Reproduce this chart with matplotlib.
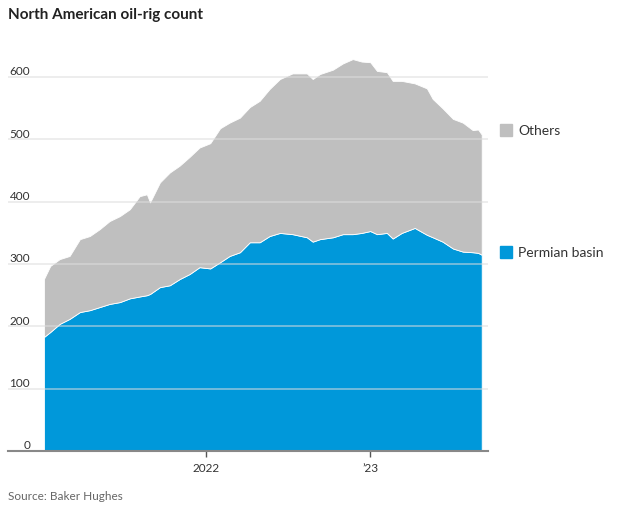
import matplotlib
matplotlib.use('Agg')
import matplotlib.pyplot as plt
import matplotlib.patches as mpatches
import pandas as pd

dates = ['2021-01-05', '2021-01-19', '2021-02-09', '2021-03-03', '2021-03-26', '2021-04-17',
         '2021-05-09', '2021-05-31', '2021-06-23', '2021-07-15', '2021-08-06', '2021-08-22',
         '2021-08-29', '2021-09-20', '2021-10-12', '2021-11-03', '2021-11-25', '2021-12-17',
         '2022-01-10', '2022-02-01', '2022-02-22', '2022-03-17', '2022-04-08', '2022-04-30',
         '2022-05-22', '2022-06-14', '2022-07-12', '2022-08-13', '2022-08-26', '2022-09-11',
         '2022-10-10', '2022-11-01', '2022-11-23', '2022-12-13', '2023-01-01', '2023-01-16',
         '2023-02-07', '2023-02-20', '2023-03-12', '2023-04-10', '2023-05-07', '2023-05-20',
         '2023-06-11', '2023-07-04', '2023-07-26', '2023-08-17', '2023-08-29', '2023-09-06']

permian = [183, 191, 204, 212, 223, 226, 231, 236, 239, 245, 248, 250,
           252, 263, 266, 276, 284, 295, 293, 303, 313, 319, 335, 335,
           345, 350, 348, 343, 336, 340, 343, 348, 348, 350, 353, 348,
           350, 341, 350, 358, 347, 343, 336, 325, 320, 319, 318, 315]

others = [93, 106, 104, 101, 117, 119, 125, 133, 138, 143, 161, 162,
          147, 168, 181, 182, 188, 192, 201, 215, 214, 216, 217, 227,
          236, 247, 258, 263, 261, 265, 269, 274, 281, 275, 271, 262,
          258, 253, 244, 232, 235, 222, 214, 208, 207, 196, 198, 193]

y_ticks = [0, 100, 200, 300, 400, 500, 600]
x_ticks = ['2022-01-01', '2023-01-01']
x_labels = ['2022', '\u201923']

blue = '#0098da'
grey = '#bfbfbf'

plt.rcParams['font.family'] = ['Lato', 'DejaVu Sans']

d = pd.to_datetime(dates)
W, H = 631, 506
fig = plt.figure(figsize=(W / 100, H / 100), dpi=100)
ax = fig.add_axes([8 / W, (H - 452) / H, 480 / W, (452 - 47) / H])

ax.stackplot(d, permian, others, colors=[blue, grey], edgecolor='white', linewidth=0.6, zorder=2)

ax.set_xlim(pd.Timestamp('2020-10-17'), pd.Timestamp('2023-09-20'))
ax.set_ylim(0, 650)

# gridlines sit on top of the areas
for v in y_ticks[1:]:
    ax.axhline(v, color='#dddddd', alpha=0.6, linewidth=1.2, zorder=3)

for v in y_ticks:
    ax.annotate(str(v), xy=(22 / 480, v), xycoords=('axes fraction', 'data'),
                xytext=(0, 2), textcoords='offset points', ha='right', va='baseline',
                fontsize=8.5, color='#333333')

for s in ['top', 'right', 'left']:
    ax.spines[s].set_visible(False)
ax.spines['bottom'].set_color('#888888')
ax.spines['bottom'].set_linewidth(1.5)
ax.spines['bottom'].set_zorder(4)

ax.set_yticks([])
ax.set_xticks(pd.to_datetime(x_ticks))
ax.set_xticklabels(x_labels)
ax.tick_params(axis='x', length=4, width=1, color='#555555', labelsize=8.5,
               labelcolor='#333333', pad=4)

fig.text(8 / W, 1 - 15 / H, 'North American oil-rig count', fontsize=11, fontweight='bold',
         color='#222222', va='center', ha='left')
fig.text(8 / W, 1 - 497 / H, 'Source: Baker Hughes', fontsize=8.5, color='#666666',
         va='center', ha='left')

fig.patches.append(mpatches.Rectangle((500 / W, 1 - 137 / H), 12 / W, 12 / H,
                                      transform=fig.transFigure, color=grey))
fig.text(518 / W, 1 - 131 / H, 'Others', fontsize=10, color='#333333', va='center')
fig.patches.append(mpatches.Rectangle((500 / W, 1 - 259 / H), 12 / W, 12 / H,
                                      transform=fig.transFigure, color=blue))
fig.text(518 / W, 1 - 253 / H, 'Permian basin', fontsize=10, color='#333333', va='center')

fig.savefig('out.png', dpi=100)
